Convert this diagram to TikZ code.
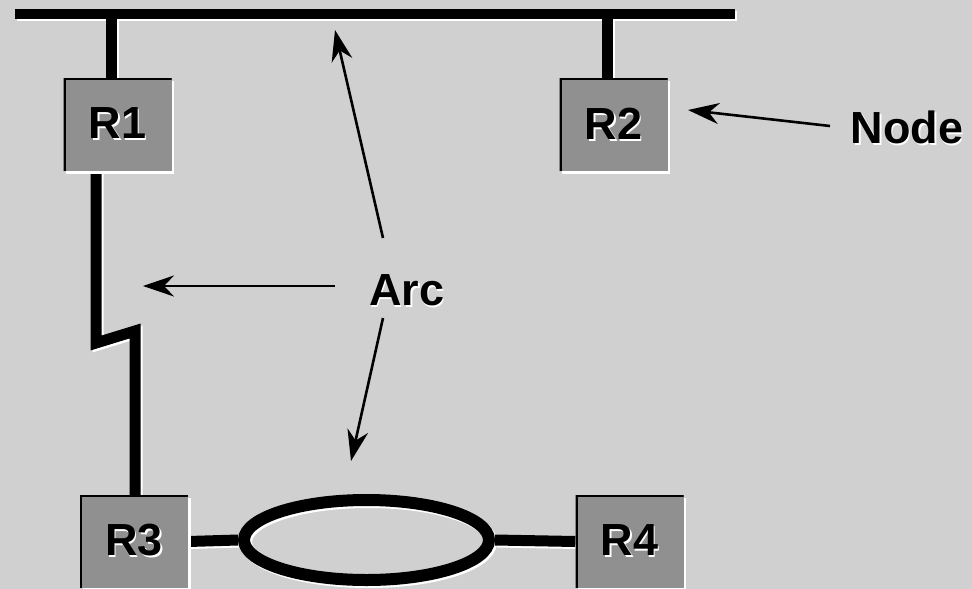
\documentclass[tikz,border=0pt]{standalone}
\usepackage{fontspec}
\setmainfont{Liberation Sans}
\usetikzlibrary{shapes.geometric,arrows.meta}
\definecolor{bgc}{HTML}{D0D0D0}
\definecolor{boxc}{HTML}{909090}
\pgfdeclarelayer{bgl}
\pgfdeclarelayer{shl}
\pgfdeclarelayer{lnl}
\pgfsetlayers{bgl,shl,lnl,main}
\newcommand\shtext[1]{\makebox[0pt][l]{\hspace{1.5pt}\raisebox{-2pt}{\color{white}#1}}#1}
\newcommand\allwires{%
  \draw[line width=10pt] (busL) -- (busR);
  \draw (t1) -- (t1 |- R1.north);
  \draw (t2) -- (t2 |- R2.north);
  \draw (z1 |- R1.south) -- (z1) -- (z2) -- (z2 |- R3.north);
  \draw (R3.east) -- (ring.west);
  \draw (ring.east) -- (R4.west);
}
\begin{document}
\begin{tikzpicture}[x=1pt,y=-1pt,
  router/.style={rectangle, fill=boxc, minimum width=108pt, minimum height=93pt,
    inner sep=0pt, font=\fontsize{45}{54}\selectfont\bfseries,
    preaction={fill=white, transform canvas={shift={(2.5pt,-2.5pt)}}},
    path picture={\draw[black,line width=4pt]
      (path picture bounding box.south west) |- (path picture bounding box.north east);}},
  lbl/.style={inner sep=0pt, font=\fontsize{45}{54}\selectfont\bfseries},
  ptr/.style={line width=2.6pt, -{Stealth[length=31pt,width=21pt,inset=10pt]}},
  wirebase/.style={line width=11pt, line join=miter, line cap=butt}
]
\useasboundingbox (0,0) rectangle (972,589);
\begin{pgfonlayer}{bgl}
  \fill[bgc] (0,0) rectangle (972,589);
\end{pgfonlayer}

% routers
\node[router] (R1) at (117.5,124.5) {\shtext{R1}};
\node[router] (R2) at (613.5,124.5) {\shtext{R2}};
\node[router] (R3) at (134,541.5) {\shtext{R3}};
\node[router] (R4) at (629.5,541.5) {\shtext{R4}};

% bus and wire points
\coordinate (busL) at (15,14);
\coordinate (busR) at (735,14);
\coordinate (t1) at (111,14);
\coordinate (t2) at (607.5,14);
\coordinate (z1) at (96,343);
\coordinate (z2) at (135,331);

% ring
\begin{pgfonlayer}{lnl}
  \node[ellipse, draw=black, line width=12pt, minimum width=245pt, minimum height=80pt,
        inner sep=0pt] (ring) at (366.5,540) {};
\end{pgfonlayer}

% shadows of wires
\begin{pgfonlayer}{shl}
  \begin{scope}[wirebase, color=white, transform canvas={shift={(2pt,-2pt)}}]
    \allwires
    \draw[line width=12pt] (ring.center) ellipse [x radius=122.5pt, y radius=40pt];
  \end{scope}
\end{pgfonlayer}
\begin{pgfonlayer}{lnl}
  \begin{scope}[wirebase, color=black]
    \allwires
  \end{scope}
\end{pgfonlayer}

% labels
\node[lbl, anchor=base] (arc) at (407,305) {\shtext{Arc}};
\node[lbl, anchor=base] (nodelbl) at (907,143) {\shtext{Node}};

% pointers
\coordinate (nT) at (830,126);
\coordinate (nH) at (688,110);
\coordinate (aL) at (335,286);
\coordinate (aLH) at (143,286);
\coordinate (aU) at (383,238);
\coordinate (aUH) at (335,30);
\coordinate (aD) at (383,318);
\coordinate (aDH) at (351,461);
\draw[ptr] (nT) -- (nH);
\draw[ptr] (aL) -- (aLH);
\draw[ptr] (aU) -- (aUH);
\draw[ptr] (aD) -- (aDH);
\end{tikzpicture}
\end{document}
